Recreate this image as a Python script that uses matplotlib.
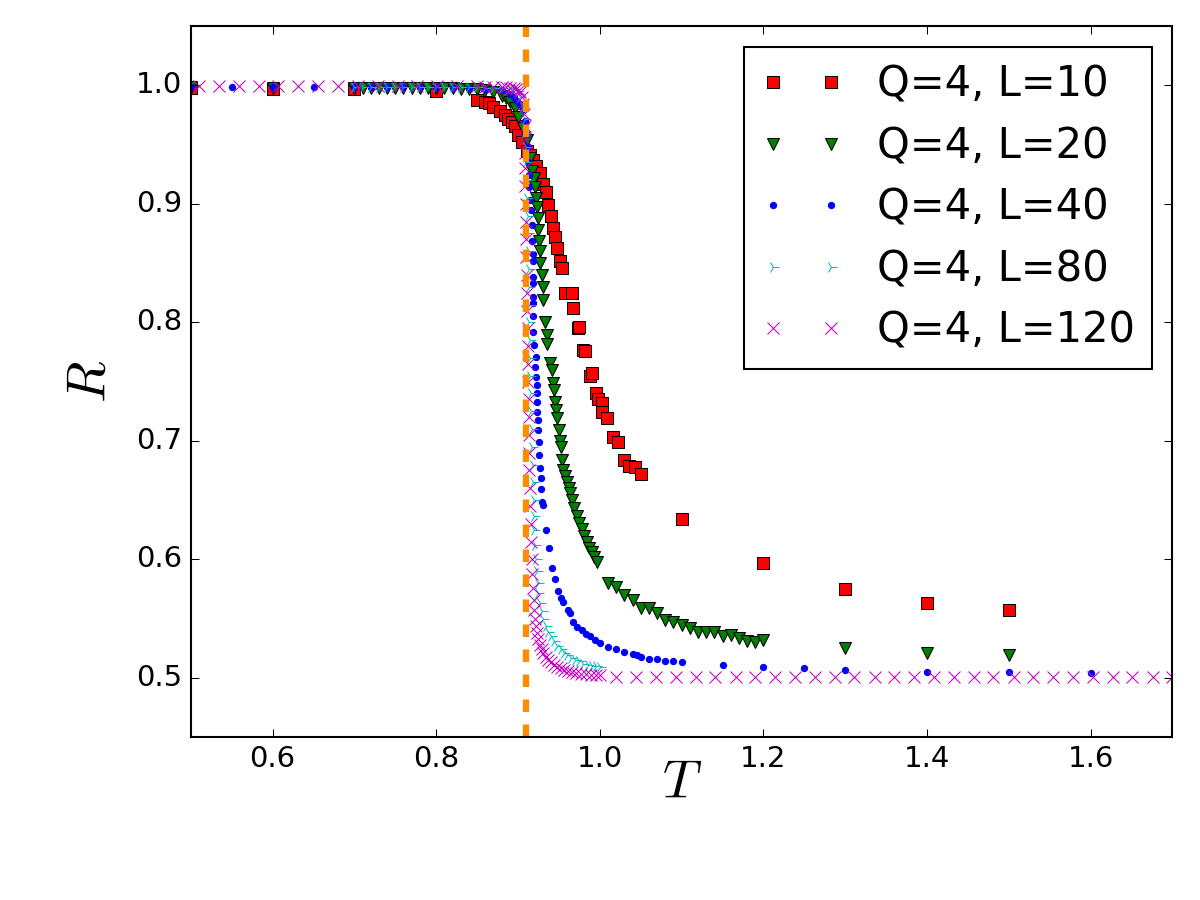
import matplotlib
matplotlib.use("Agg")
import matplotlib.pyplot as plt

plt.style.use("classic")

# Q=4, L=10
T10 = [0.50, 0.60, 0.70, 0.80,
       0.850, 0.860, 0.865, 0.870, 0.878, 0.884, 0.888, 0.893, 0.896, 0.900,
       0.905, 0.911, 0.915, 0.918, 0.922, 0.927, 0.931, 0.934, 0.937, 0.940,
       0.943, 0.945, 0.948, 0.951, 0.954, 0.957, 0.966, 0.967, 0.973, 0.975,
       0.980, 0.982, 0.988, 0.990, 0.995, 0.998, 1.003, 1.003, 1.009, 1.016,
       1.022, 1.030, 1.036, 1.043, 1.050,
       1.10, 1.20, 1.30, 1.40, 1.50]
R10 = [0.998, 0.997, 0.997, 0.995,
       0.988, 0.986, 0.985, 0.982, 0.978, 0.975, 0.972, 0.969, 0.966, 0.958,
       0.952, 0.945, 0.941, 0.937, 0.932, 0.926, 0.917, 0.910, 0.899, 0.890,
       0.880, 0.872, 0.863, 0.852, 0.846, 0.825, 0.825, 0.812, 0.795, 0.796,
       0.777, 0.776, 0.755, 0.757, 0.740, 0.735, 0.732, 0.724, 0.719, 0.703,
       0.699, 0.684, 0.679, 0.678, 0.672,
       0.634, 0.597, 0.575, 0.563, 0.557]

# Q=4, L=20
T20 = [0.50, 0.60,
       0.70, 0.71, 0.72, 0.73, 0.74, 0.75, 0.76, 0.77, 0.78, 0.79,
       0.80, 0.81, 0.82, 0.83, 0.84, 0.85, 0.86, 0.87, 0.88,
       0.885, 0.890, 0.896, 0.900, 0.906, 0.911, 0.915, 0.917, 0.919, 0.921,
       0.922, 0.923, 0.924, 0.924, 0.926, 0.927, 0.927, 0.929, 0.930, 0.930,
       0.933, 0.935, 0.936, 0.939, 0.941, 0.943, 0.944, 0.945, 0.946, 0.948,
       0.950, 0.951, 0.952, 0.954, 0.955, 0.958, 0.960, 0.962, 0.964, 0.966,
       0.969, 0.972, 0.975, 0.978, 0.981, 0.984, 0.987, 0.990, 0.993, 0.997,
       1.01, 1.02, 1.03, 1.04, 1.05, 1.06, 1.07, 1.08, 1.09, 1.10,
       1.11, 1.12, 1.13, 1.14, 1.15, 1.16, 1.17, 1.18, 1.19, 1.20,
       1.30, 1.40, 1.50]
R20 = [0.999, 0.998,
       0.998, 0.998, 0.998, 0.998, 0.998, 0.998, 0.998, 0.998, 0.998, 0.998,
       0.998, 0.998, 0.998, 0.997, 0.997, 0.997, 0.996, 0.994, 0.991,
       0.989, 0.986, 0.981, 0.973, 0.964, 0.954, 0.939, 0.928, 0.922, 0.914,
       0.905, 0.897, 0.888, 0.878, 0.869, 0.860, 0.850, 0.840, 0.830, 0.819,
       0.800, 0.789, 0.782, 0.766, 0.760, 0.749, 0.743, 0.733, 0.726, 0.719,
       0.709, 0.700, 0.695, 0.684, 0.675, 0.670, 0.665, 0.660, 0.656, 0.650,
       0.643, 0.637, 0.631, 0.626, 0.620, 0.615, 0.610, 0.606, 0.602, 0.598,
       0.580, 0.577, 0.570, 0.566, 0.559, 0.559, 0.555, 0.549, 0.547, 0.545,
       0.542, 0.539, 0.539, 0.539, 0.535, 0.536, 0.534, 0.531, 0.530, 0.532,
       0.525, 0.521, 0.519]

# Q=4, L=40
T40 = [0.50, 0.55, 0.60, 0.65, 0.70, 0.72, 0.74, 0.76, 0.78, 0.80, 0.82,
       0.84, 0.86, 0.88,
       0.890, 0.895, 0.899, 0.903, 0.906, 0.909, 0.911, 0.912, 0.912, 0.913,
       0.914, 0.915, 0.916, 0.917, 0.917, 0.918, 0.918, 0.918, 0.918, 0.918,
       0.918, 0.918, 0.918, 0.920, 0.922, 0.921, 0.922, 0.923, 0.923, 0.923,
       0.923, 0.924, 0.925, 0.926, 0.926, 0.927, 0.928, 0.928, 0.929, 0.930,
       0.934, 0.938, 0.941, 0.945, 0.949, 0.952, 0.955, 0.961, 0.964, 0.967,
       0.972, 0.978, 0.983, 0.988, 0.994,
       1.00, 1.01, 1.02, 1.03, 1.04, 1.045, 1.05, 1.06, 1.07, 1.08, 1.09, 1.10,
       1.15, 1.20, 1.25, 1.30, 1.40, 1.50, 1.60]
R40 = [0.999, 0.999, 0.999, 0.999, 0.999, 0.999, 0.999, 0.999, 0.999, 0.999, 0.998,
       0.998, 0.997, 0.996,
       0.993, 0.990, 0.987, 0.984, 0.980, 0.970, 0.959, 0.948, 0.935, 0.924,
       0.914, 0.903, 0.895, 0.882, 0.869, 0.858, 0.852, 0.838, 0.833, 0.821,
       0.816, 0.805, 0.792, 0.781, 0.771, 0.762, 0.754, 0.747, 0.740, 0.733,
       0.724, 0.718, 0.709, 0.699, 0.688, 0.677, 0.669, 0.659, 0.648, 0.646,
       0.625, 0.610, 0.593, 0.583, 0.573, 0.567, 0.564, 0.557, 0.555, 0.547,
       0.543, 0.540, 0.537, 0.535, 0.532,
       0.529, 0.526, 0.524, 0.522, 0.520, 0.519, 0.518, 0.516, 0.516, 0.514, 0.514, 0.513,
       0.511, 0.509, 0.508, 0.507, 0.505, 0.505, 0.504]

# Q=4, L=80
T80 = [0.70, 0.71, 0.72, 0.73, 0.74, 0.75, 0.76, 0.77, 0.78, 0.79,
       0.80, 0.81, 0.82, 0.83, 0.84, 0.85, 0.86, 0.87, 0.88, 0.89,
       0.895, 0.900, 0.903, 0.906, 0.908, 0.909, 0.910, 0.910, 0.911, 0.911,
       0.912, 0.912, 0.913, 0.913, 0.913, 0.914, 0.914, 0.915, 0.915, 0.915,
       0.916, 0.916, 0.917, 0.917, 0.918, 0.918, 0.919, 0.919, 0.920, 0.921,
       0.922, 0.923, 0.924, 0.925, 0.927, 0.929, 0.931, 0.934, 0.937, 0.940,
       0.944, 0.948, 0.952, 0.956, 0.960, 0.965, 0.970, 0.975, 0.980, 0.985,
       0.990, 0.995, 1.000]
R80 = [0.999, 0.999, 0.999, 0.999, 0.999, 0.999, 0.999, 0.999, 0.999, 0.999,
       0.999, 0.999, 0.999, 0.999, 0.999, 0.999, 0.998, 0.998, 0.998, 0.998,
       0.997, 0.995, 0.990, 0.982, 0.972, 0.960, 0.948, 0.935, 0.920, 0.905,
       0.890, 0.875, 0.860, 0.845, 0.830, 0.815, 0.800, 0.785, 0.770, 0.755,
       0.740, 0.725, 0.710, 0.695, 0.680, 0.665, 0.650, 0.637, 0.625, 0.612,
       0.600, 0.590, 0.580, 0.572, 0.563, 0.556, 0.550, 0.544, 0.539, 0.535,
       0.531, 0.527, 0.524, 0.521, 0.519, 0.517, 0.515, 0.514, 0.512, 0.511,
       0.510, 0.510, 0.509]

# Q=4, L=120
T120 = [0.510, 0.534, 0.559, 0.583, 0.607, 0.631, 0.656, 0.680, 0.704, 0.729,
        0.753, 0.777, 0.801, 0.826, 0.850,
        0.860, 0.870, 0.880, 0.885, 0.890, 0.895, 0.898, 0.901, 0.903, 0.905,
        0.906, 0.907, 0.908, 0.908, 0.909, 0.909, 0.909, 0.910, 0.910, 0.910,
        0.910, 0.911, 0.911, 0.911, 0.912, 0.912, 0.912, 0.912, 0.913, 0.913,
        0.913, 0.914, 0.914, 0.915, 0.915, 0.916, 0.916, 0.917, 0.917, 0.918,
        0.919, 0.920, 0.921, 0.922, 0.923, 0.925, 0.927, 0.929, 0.931, 0.934,
        0.937, 0.940, 0.944, 0.948, 0.952, 0.956, 0.961, 0.966, 0.971, 0.977,
        0.983, 0.989, 0.995, 1.000,
        1.020, 1.044, 1.069, 1.093, 1.117, 1.141, 1.166, 1.190, 1.214, 1.239,
        1.263, 1.287, 1.311, 1.336, 1.360, 1.384, 1.409, 1.433, 1.457, 1.481,
        1.506, 1.530, 1.554, 1.579, 1.603, 1.627, 1.651, 1.676, 1.700]
R120 = [0.9995, 0.9995, 0.9995, 0.9995, 0.9995, 0.9995, 0.9995, 0.9995, 0.9995, 0.9995,
        0.9995, 0.9995, 0.9995, 0.9995, 0.9995,
        0.999, 0.999, 0.999, 0.999, 0.998, 0.998, 0.997, 0.996, 0.994, 0.990,
        0.984, 0.976, 0.966, 0.955, 0.943, 0.930, 0.915, 0.900, 0.885, 0.870,
        0.855, 0.840, 0.825, 0.810, 0.795, 0.780, 0.765, 0.750, 0.735, 0.720,
        0.705, 0.690, 0.675, 0.660, 0.645, 0.630, 0.615, 0.600, 0.588, 0.576,
        0.566, 0.557, 0.550, 0.544, 0.538, 0.533, 0.528, 0.524, 0.521, 0.518,
        0.515, 0.513, 0.511, 0.509, 0.508, 0.507, 0.506, 0.505, 0.504, 0.503,
        0.503, 0.502, 0.502, 0.502,
        0.501, 0.501, 0.501, 0.501, 0.501, 0.501, 0.501, 0.501, 0.501, 0.501,
        0.501, 0.501, 0.501, 0.501, 0.501, 0.501, 0.501, 0.501, 0.501, 0.501,
        0.501, 0.501, 0.501, 0.501, 0.501, 0.501, 0.501, 0.501, 0.501]

Tc = 0.91

fig = plt.figure(figsize=(8, 6), dpi=150, facecolor="white")
ax = fig.add_axes([0.159, 0.181, 0.818, 0.790])

ax.plot(T10, R10, "rs", label="Q=4, L=10")
ax.plot(T20, R20, "gv", label="Q=4, L=20")
ax.plot(T40, R40, "b.", label="Q=4, L=40")
ax.plot(T80, R80, "c4", label="Q=4, L=80")
ax.plot(T120, R120, "mx", label="Q=4, L=120")
ax.axvline(Tc, color="darkorange", linestyle="--", linewidth=3)

ax.set_xlim(0.5, 1.7)
ax.set_ylim(0.45, 1.05)
ax.set_xticks([0.6, 0.8, 1.0, 1.2, 1.4, 1.6])
ax.set_yticks([0.5, 0.6, 0.7, 0.8, 0.9, 1.0])
ax.tick_params(labelsize=14)
ax.set_xlabel("$T$", fontsize=26, labelpad=-8)
ax.set_ylabel("$R$", fontsize=26, labelpad=10)
ax.legend(loc="upper right", numpoints=2, fontsize=20, labelspacing=0.47)

fig.savefig("out.png", dpi=150, facecolor="white")
